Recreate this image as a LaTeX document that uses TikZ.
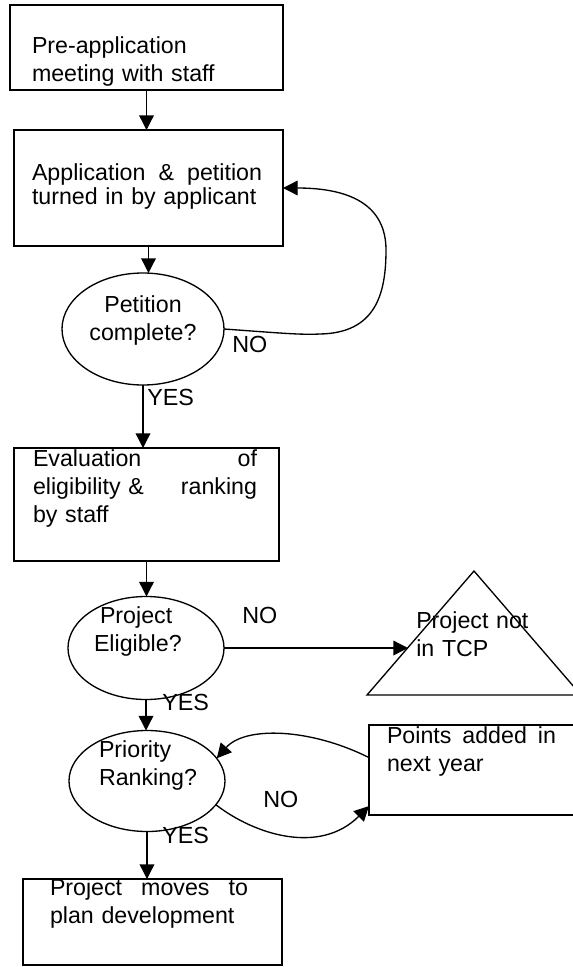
\documentclass[tikz,border=0pt]{standalone}
\usepackage{fontspec}
\setmainfont{Liberation Sans}
\usetikzlibrary{shapes.geometric,arrows.meta}

\tikzset{
  txt/.style={font=\fontsize{17.4pt}{21pt}\selectfont},
  stepbox/.style={txt, draw, line width=1pt, anchor=north west, inner ysep=0pt, outer sep=0pt, align=left},
  query/.style={txt, draw, ellipse, line width=1pt, inner sep=0pt, outer sep=0pt, text height=0pt},
  yesno/.style={anchor=base west, inner sep=0pt, font=\fontsize{17.5pt}{21pt}\selectfont},
  arr/.style={line width=1pt, -{Triangle[length=11pt,width=11pt]}},
}

\begin{document}
\begin{tikzpicture}[x=0.75pt, y=-0.75pt]
  \useasboundingbox (0,0) rectangle (573,967);

  \node[stepbox, inner xsep=16.5pt, text width=171.75pt, text height=36pt, text depth=27.75pt] (pre) at (10,5) {Pre-application\\meeting with staff};
  \node[stepbox, inner xsep=13.5pt, text width=174.75pt, text height=37.5pt, text depth=49.5pt] (appl) at (14,130) {\makebox[172.5pt][l]{Application\hfill\&\hfill petition}\\[-3pt]turned in by applicant};
  \node[query, minimum width=121.5pt, minimum height=84pt, text width=84pt, align=center, text depth=25.5pt] (pet) at (143,329) {Petition\\complete?};
  \node[stepbox, inner xsep=14.25pt, text width=170.25pt, text height=13.5pt, text depth=71.25pt] (eval) at (14,448) {\makebox[168pt][l]{Evaluation\hfill of}\\\makebox[168pt][l]{eligibility \&\hfill ranking}\\by staff};
  \node[query, minimum width=117pt, minimum height=77.25pt, text width=78pt, align=left, text depth=37.5pt] (elig) at (146,648) {\hspace*{4.5pt}Project\\Eligible?};
  \node[query, minimum width=117pt, minimum height=75.75pt, text width=80pt, align=left, text depth=36pt] (prio) at (147,781) {\hspace*{4pt}Priority\\\hspace*{4pt}Ranking?};
  \node[stepbox, inner xsep=13.5pt, text width=150pt, text height=13.5pt, text depth=54pt] (points) at (369,725) {\makebox[126.75pt][l]{Points\hfill added\hfill in}\\next year};
  \node[stepbox, inner xsep=20.25pt, text width=153.75pt, text height=12pt, text depth=52.5pt] (plan) at (23,879) {\makebox[148.5pt][l]{Project\hfill moves\hfill to}\\plan development};

  % triangle for the rejected projects
  \coordinate (tcpL) at (367,695);
  \coordinate (tcpT) at (474,571);
  \coordinate (tcpR) at (581,695);
  \coordinate (tcpin) at (408,648);
  \draw[line width=1pt] (tcpL) -- (tcpT) -- (tcpR) -- cycle;
  \node[txt, anchor=base west, inner sep=0pt, text width=97.5pt, align=left] (tcptxt) at (416,628) {Project not\\in TCP};

  \draw[arr] (pre.south) -- (pre.south |- appl.north);
  \draw[arr] (appl.south) -- (appl.south |- pet.north);
  \draw[arr] (pet.south) -- (pet.south |- eval.north);
  \draw[arr] (pet.east) .. controls (280,333) and (300,335) .. (320,334) .. controls (375,333) and (386,295) .. (386,250) .. controls (386,205) and (350,188) .. (appl.east);
  \draw[arr] (eval.south) -- (eval.south |- elig.north);
  \draw[arr] (elig.east) -- (tcpin);
  \draw[arr] (elig.south) -- (elig.south |- prio.north);
  \draw[arr] (prio.south) -- (prio.south |- plan.north);
  \draw[arr] (points.174) .. controls (310,728) and (245,726) .. (prio.18);
  \draw[arr] (prio.341) .. controls (255,835) and (320,855) .. (points.197);

  \node[yesno] (no1) at (232,352) {NO};
  \node[yesno] (yes1) at (147,405) {YES};
  \node[yesno] (no2) at (242,623) {NO};
  \node[yesno] (yes2) at (162,710) {YES};
  \node[yesno] (no3) at (263,807) {NO};
  \node[yesno] (yes3) at (162,843) {YES};
\end{tikzpicture}
\end{document}
